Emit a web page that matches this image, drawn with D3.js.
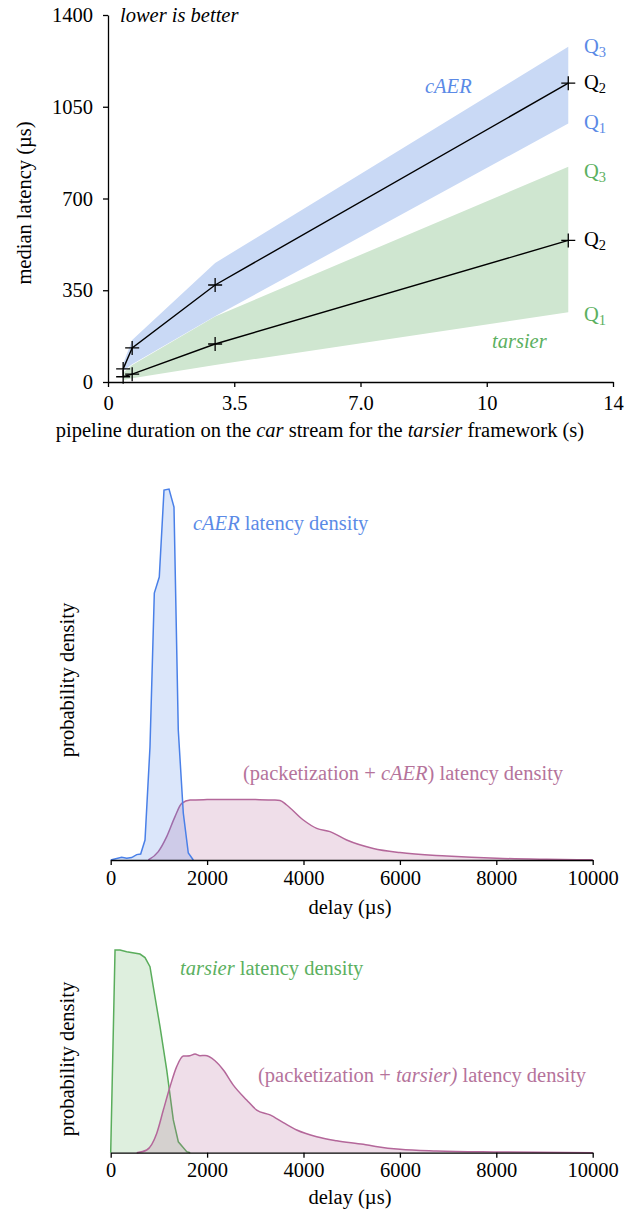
<!DOCTYPE html>
<html>
<head>
<meta charset="utf-8">
<script src="https://cdn.jsdelivr.net/npm/d3@7"></script>
<style>
  html, body { margin: 0; padding: 0; background: #fff; }
  svg { display: block; }
  svg text { font-family: "Liberation Serif", "DejaVu Serif", serif; }
</style>
</head>
<body>
<svg id="chart" width="624" height="1215"></svg>
<script>
// ---------- latency vs pipeline duration ----------
const durations = [0.42, 0.67, 2.97, 12.76];           // s
const caerQ1 = [42, 68, 251, 986];                       // µs
const caerQ2 = [50, 130, 370, 1140];
const caerQ3 = [70, 160, 454, 1279];
const tarsierQ1 = [8, 14, 65, 266];
const tarsierQ2 = [20, 30, 145, 540];
const tarsierQ3 = [35, 65, 250, 821];
const latencyTicks = [0, 350, 700, 1050, 1400];
const durationTicks = [0, 3.5, 7, 10.5, 14];
const durationTickLabels = ["0", "3.5", "7.0", "10", "14"];

// ---------- delay densities (per ms) ----------
const caerDelay = [0, 228, 332, 435, 539, 622, 712, 815, 905, 1008, 1106, 1210, 1313, 1402, 1506, 1610, 1714];
const caerDensity = [0, 0.014, 0.009, 0.012, 0.027, 0.030, 0.10, 0.565, 1.335, 1.415, 1.85, 1.855, 1.765, 0.65, 0.235, 0.035, 0];
const packCaerDelay = [780, 988, 1162, 1334, 1473, 1645, 2000, 2500, 3000, 3400, 3513, 3651, 3996, 4274, 4550, 4896, 5448, 6002, 6971, 8008, 9046, 10000];
const packCaerDensity = [0, 0.042, 0.117, 0.217, 0.283, 0.30, 0.302, 0.303, 0.302, 0.300, 0.298, 0.275, 0.20, 0.158, 0.142, 0.10, 0.058, 0.037, 0.02, 0.0085, 0.0035, 0.001];

const tarsierDelay = [0, 90, 193, 332, 608, 712, 815, 884, 1023, 1162, 1299, 1403, 1577, 1650];
const tarsierDensity = [0, 0.965, 0.965, 0.957, 0.946, 0.929, 0.886, 0.79, 0.60, 0.394, 0.156, 0.052, 0.005, 0];
const packTarsierDelay = [540, 747, 954, 1092, 1230, 1369, 1506, 1645, 1749, 1853, 1957, 2164, 2337, 2544, 2821, 3029, 3305, 3582, 3859, 4274, 4689, 5241, 5500, 6002, 6763, 8008, 10000];
const packTarsierDensity = [0, 0.013, 0.092, 0.203, 0.314, 0.41, 0.46, 0.462, 0.47, 0.462, 0.463, 0.438, 0.394, 0.322, 0.251, 0.203, 0.18, 0.143, 0.108, 0.076, 0.057, 0.040, 0.030, 0.016, 0.008, 0.0033, 0];
const delayTicks = [0, 2000, 4000, 6000, 8000, 10000];

const SERIF = "Liberation Serif";
const FS = 20.5;          // body text size
const FS_SUB = 14.5;      // subscript size
const BLUE = "#4a80e8", BLUE_TEXT = "#5b8ae6", BLUE_BAND = "#c9d9f5";
const GREEN = "#5aad5c", GREEN_TEXT = "#5bb060", GREEN_BAND = "#cfe6d0";
const PINK = "#b4679a", PINK_TEXT = "#b5739b";

const svg = d3.select("#chart");

function styleAxis(g) {
  g.attr("font-family", SERIF).attr("font-size", FS);
  g.selectAll("path, line").attr("stroke", "#000").attr("stroke-width", 1.3);
  g.selectAll("text").attr("fill", "#000").style("font-family", SERIF).style("font-size", FS + "px");
}

// ======== top panel ========
const x1 = d3.scaleLinear().domain([0, 14]).range([108, 613]);
const y1 = d3.scaleLinear().domain([0, 1400]).range([382, 15]);

function band(lo, hi) {
  return d3.area()
    .x((d, i) => x1(durations[i]))
    .y0((d, i) => y1(lo[i]))
    .y1((d, i) => y1(hi[i]))(durations);
}
svg.append("path").attr("d", band(tarsierQ1, tarsierQ3)).attr("fill", GREEN_BAND);
svg.append("path").attr("d", band(caerQ1, caerQ3)).attr("fill", BLUE_BAND);

const medLine = d3.line().x(d => x1(d[0])).y(d => y1(d[1]));
[caerQ2, tarsierQ2].forEach(q => {
  const pts = durations.map((t, i) => [t, q[i]]);
  svg.append("path").attr("d", medLine(pts))
    .attr("fill", "none").attr("stroke", "#000").attr("stroke-width", 1.4);
  svg.append("g").selectAll("path").data(pts).join("path")
    .attr("d", d => `M${x1(d[0]) - 7},${y1(d[1])}h14M${x1(d[0])},${y1(d[1]) - 7}v14`)
    .attr("stroke", "#000").attr("stroke-width", 1.3);
});

svg.append("g")
  .attr("transform", "translate(108,0)")
  .call(d3.axisLeft(y1).tickValues(latencyTicks).tickFormat(d3.format("d"))
    .tickSize(5).tickSizeOuter(0).tickPadding(10))
  .call(styleAxis);
svg.append("g")
  .attr("transform", "translate(0,382)")
  .call(d3.axisBottom(x1).tickValues(durationTicks)
    .tickFormat((d, i) => durationTickLabels[i]).tickSize(5).tickSizeOuter(0).tickPadding(8))
  .call(styleAxis);

svg.append("text").attr("transform", "translate(31,203) rotate(-90)")
  .attr("text-anchor", "middle").attr("font-size", FS).text("median latency (µs)");
const xl = svg.append("text").attr("x", 320).attr("y", 437)
  .attr("text-anchor", "middle").attr("font-size", FS);
xl.append("tspan").text("pipeline duration on the ");
xl.append("tspan").attr("font-style", "italic").text("car");
xl.append("tspan").text(" stream for the ");
xl.append("tspan").attr("font-style", "italic").text("tarsier");
xl.append("tspan").text(" framework (s)");

svg.append("text").attr("x", 120).attr("y", 22).attr("font-size", FS)
  .attr("font-style", "italic").text("lower is better");
svg.append("text").attr("x", 425).attr("y", 93).attr("font-size", FS)
  .attr("font-style", "italic").attr("fill", BLUE_TEXT).text("cAER");
svg.append("text").attr("x", 492).attr("y", 348).attr("font-size", FS)
  .attr("font-style", "italic").attr("fill", GREEN_TEXT).text("tarsier");

function qLabel(sub, value, color, dy) {
  const t = svg.append("text").attr("x", 584).attr("y", y1(value) + dy)
    .attr("font-size", FS).attr("fill", color);
  t.append("tspan").text("Q");
  t.append("tspan").attr("font-size", FS_SUB).attr("dy", 4).text(sub);
}
const last = durations.length - 1;
qLabel("3", caerQ3[last], BLUE_TEXT, 6);
qLabel("2", caerQ2[last], "#000", 6);
qLabel("1", caerQ1[last], BLUE_TEXT, 5);
qLabel("3", tarsierQ3[last], GREEN_TEXT, 11);
qLabel("2", tarsierQ2[last], "#000", 6);
qLabel("1", tarsierQ1[last], GREEN_TEXT, 9);

// ======== density panels ========
const xd = d3.scaleLinear().domain([0, 10000]).range([110.7, 592.7]);

function densityPanel(yScale, baseY, series, labelY, titleY) {
  series.forEach(s => {
    const pts = s.delay.map((d, i) => [d, s.density[i]]);
    const area = d3.area().curve(s.curve)
      .x(d => xd(d[0])).y0(yScale(0)).y1(d => yScale(d[1]));
    const line = d3.line().curve(s.curve)
      .x(d => xd(d[0])).y(d => yScale(d[1]));
    svg.append("path").attr("d", area(pts))
      .attr("fill", s.color).attr("fill-opacity", s.alpha);
    svg.append("path").attr("d", line(pts))
      .attr("fill", "none").attr("stroke", s.color).attr("stroke-width", 1.5);
  });
  svg.append("g")
    .attr("transform", `translate(0,${baseY})`)
    .call(d3.axisBottom(xd).tickValues(delayTicks).tickFormat(d3.format("d"))
      .tickSize(5).tickSizeOuter(0).tickPadding(5))
    .call(styleAxis);
  svg.append("text").attr("x", 350).attr("y", titleY)
    .attr("text-anchor", "middle").attr("font-size", FS).text("delay (µs)");
  svg.append("text").attr("transform", `translate(74,${labelY}) rotate(-90)`)
    .attr("text-anchor", "middle").attr("font-size", FS).text("probability density");
}

const y2 = d3.scaleLinear().domain([0, 1.9]).range([860, 480]);
densityPanel(y2, 860, [
  { delay: packCaerDelay, density: packCaerDensity, color: PINK, alpha: 0.22, curve: d3.curveMonotoneX },
  { delay: caerDelay, density: caerDensity, color: BLUE, alpha: 0.2, curve: d3.curveLinear }
], 680, 914);

const t1 = svg.append("text").attr("x", 193).attr("y", 530).attr("font-size", FS).attr("fill", BLUE_TEXT);
t1.append("tspan").attr("font-style", "italic").text("cAER");
t1.append("tspan").text(" latency density");
const t2 = svg.append("text").attr("x", 243).attr("y", 780).attr("font-size", FS).attr("fill", PINK_TEXT);
t2.append("tspan").text("(packetization + ");
t2.append("tspan").attr("font-style", "italic").text("cAER");
t2.append("tspan").text(") latency density");

const y3 = d3.scaleLinear().domain([0, 1]).range([1152.7, 942.7]);
densityPanel(y3, 1152.7, [
  { delay: tarsierDelay, density: tarsierDensity, color: GREEN, alpha: 0.2, curve: d3.curveLinear },
  { delay: packTarsierDelay, density: packTarsierDensity, color: PINK, alpha: 0.22, curve: d3.curveMonotoneX }
], 1059, 1204);

const t3 = svg.append("text").attr("x", 180).attr("y", 975).attr("font-size", FS).attr("fill", GREEN_TEXT);
t3.append("tspan").attr("font-style", "italic").text("tarsier");
t3.append("tspan").text(" latency density");
const t4 = svg.append("text").attr("x", 258).attr("y", 1082).attr("font-size", FS).attr("fill", PINK_TEXT);
t4.append("tspan").text("(packetization + ");
t4.append("tspan").attr("font-style", "italic").text("tarsier)");
t4.append("tspan").text(" latency density");
</script>
</body>
</html>
